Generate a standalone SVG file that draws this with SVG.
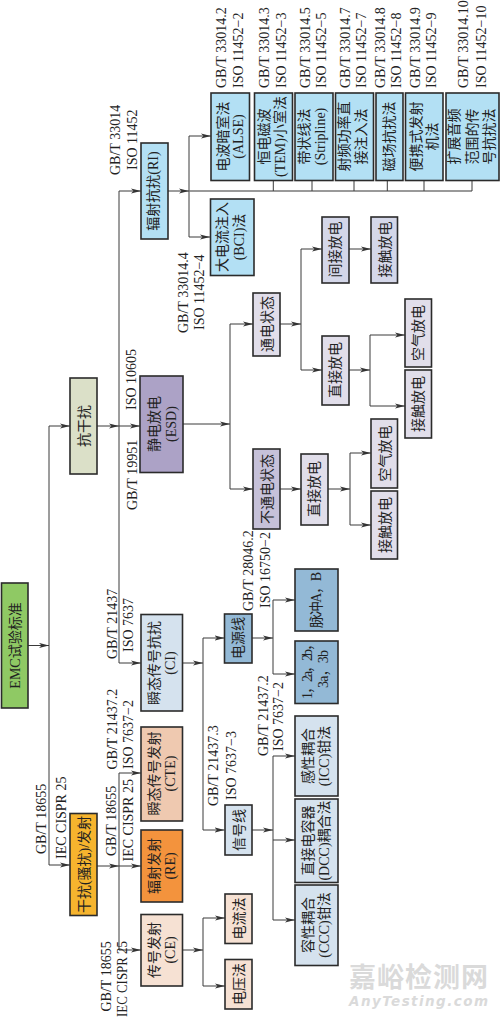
<svg xmlns="http://www.w3.org/2000/svg" width="500" height="1018" viewBox="0 0 500 1018">
<style>
text{font-family:"Liberation Serif","Noto Sans CJK SC",serif;fill:#222}
.n{font-size:14px;text-anchor:middle}
.l{font-size:14px;text-anchor:start}
rect{stroke:#2b2b2b;stroke-width:1.6}
.c path{fill:none;stroke:#3a3a3a;stroke-width:1}
.c path.a{marker-end:url(#ah)}
.c path.g{stroke:#777;stroke-width:1.4}
.lb{fill:#b3e0f4}.pu{fill:#aca2c6}.lp{fill:#e1deea}.mp{fill:#c6c1d9}.bp{fill:#d4d7e9}
.lc{fill:#d5e2ee}.mb{fill:#93b9d6}.ps{fill:#f6e1d3}.sa{fill:#efc9b0}.or{fill:#f3933d}
.wm{fill:#dadada;font-family:"Noto Sans CJK SC",sans-serif;font-weight:700;font-size:27px}
.wn{fill:#dadada;font-family:"DejaVu Sans",sans-serif;font-weight:700;font-style:italic;font-size:13.5px}
</style>
<defs>
<marker id="ah" markerUnits="userSpaceOnUse" markerWidth="10" markerHeight="6" refX="10" refY="3" orient="auto">
<path d="M0 .4L10 3L0 5.6L2.5 3Z" fill="#333"/>
</marker>
</defs>
<g id="connectors" class="c">
<path class="a" d="M28 645.5H49"/>
<path d="M49 426V865"/>
<path class="a" d="M49 426H70"/>
<path class="a" d="M49 865H70"/>
<path class="a" d="M97 426H119"/>
<path d="M119 191V663"/>
<path class="a" d="M119 191H141"/>
<path class="a" d="M119 426H140"/>
<path class="a" d="M119 663H141"/>
<path class="a" d="M168 191H189"/>
<path d="M189 136V237"/>
<path class="a" d="M189 136H211"/>
<path class="a" d="M189 237H210"/>
<path class="g" d="M189 191H472"/>
<path d="M273.300 180V191M312 180V191M354 180V191M387.300 180V191M424 180V191M472 180V191"/>
<path class="a" d="M183 424H230"/>
<path d="M230 324V489"/>
<path class="a" d="M230 324H253"/>
<path class="a" d="M230 489H253"/>
<path class="a" d="M280 324H301"/>
<path d="M301 249V370"/>
<path class="a" d="M301 249H322"/>
<path class="a" d="M301 370H322"/>
<path class="a" d="M349 249H371"/>
<path class="a" d="M349 370H370"/>
<path d="M370 335V406"/>
<path class="a" d="M370 335H405"/>
<path class="a" d="M370 406H405"/>
<path class="a" d="M280 489H301"/>
<path class="a" d="M328 489H350"/>
<path d="M350 453V525"/>
<path class="a" d="M350 453H371"/>
<path class="a" d="M350 525H371"/>
<path class="a" d="M182 663H203"/>
<path d="M203 638V830"/>
<path class="a" d="M203 638H224.500"/>
<path class="a" d="M203 830H224.500"/>
<path class="a" d="M252 638H273"/>
<path d="M273 600V674"/>
<path class="a" d="M273 600H295"/>
<path class="a" d="M273 674H295"/>
<path class="a" d="M252 830H273"/>
<path d="M273 756V920"/>
<path class="a" d="M273 756H295"/>
<path class="a" d="M273 840H295"/>
<path class="a" d="M273 920H295"/>
<path class="a" d="M97 866H119"/>
<path d="M119 773V950"/>
<path class="a" d="M119 773H141"/>
<path class="a" d="M119 866H141"/>
<path class="a" d="M119 950H141"/>
<path class="a" d="M182 950H203"/>
<path d="M203 918V986"/>
<path class="a" d="M203 918H225"/>
<path class="a" d="M203 986H225"/>
</g>
<g id="emc"><rect x="1.500" y="583" width="26.500" height="125" fill="#8fc964"/><text class="n" transform="translate(20,645.500) rotate(-90)">EMC试验标准</text></g>
<g id="immunity"><rect x="70" y="378" width="27" height="96" fill="#dbe0c8"/><text class="n" transform="translate(88.500,426) rotate(-90)">抗干扰</text></g>
<g id="ri"><rect class="lb" x="141" y="143" width="27" height="96"/><text class="n" transform="translate(158,191) rotate(-90)">辐射抗扰(RI)</text></g>
<g id="esd"><rect class="pu" x="140" y="376" width="43" height="96.500"/><text class="n" transform="translate(159,424) rotate(-90)">静电放电</text><text class="n" transform="translate(175.500,424) rotate(-90)">(ESD)</text></g>
<g id="alse"><rect class="lb" x="211" y="93" width="38.500" height="87.500"/><text class="n" transform="translate(227.500,136.500) rotate(-90)">电波暗室法</text><text class="n" transform="translate(243,136.500) rotate(-90)">(ALSE)</text></g>
<g id="tem"><rect class="lb" x="254.500" y="93" width="38" height="87.500"/><text class="n" transform="translate(269,136.500) rotate(-90)">恒电磁波</text><text class="n" transform="translate(285,136.500) rotate(-90)">(TEM)小室法</text></g>
<g id="stripline"><rect class="lb" x="295" y="93" width="38" height="87.500"/><text class="n" transform="translate(309,136.500) rotate(-90)">带状线法</text><text class="n" transform="translate(325,136.500) rotate(-90)">(Stripline)</text></g>
<g id="rfpower"><rect class="lb" x="335.500" y="93" width="38" height="87.500"/><text class="n" transform="translate(349,136.500) rotate(-90)">射频功率直</text><text class="n" transform="translate(366,136.500) rotate(-90)">接注入法</text></g>
<g id="magnetic"><rect class="lb" x="376" y="93" width="27" height="87.500"/><text class="n" transform="translate(394,136.500) rotate(-90)">磁场抗扰法</text></g>
<g id="portable"><rect class="lb" x="405.500" y="93" width="37.500" height="87.500"/><text class="n" transform="translate(421,136.500) rotate(-90)">便携式发射</text><text class="n" transform="translate(437,136.500) rotate(-90)">机法</text></g>
<g id="audio"><rect class="lb" x="446" y="93" width="53" height="87.500"/><text class="n" transform="translate(459,136.500) rotate(-90)">扩展音频</text><text class="n" transform="translate(476.500,136.500) rotate(-90)">范围的传</text><text class="n" transform="translate(494,136.500) rotate(-90)">号抗扰法</text></g>
<g id="bci"><rect class="lb" x="210.500" y="199" width="43.500" height="76.500"/><text class="n" transform="translate(227,237) rotate(-90)">大电流注入</text><text class="n" transform="translate(244,237) rotate(-90)">(BCI)法</text></g>
<g id="powered"><rect class="lp" x="253" y="293" width="27" height="63"/><text class="n" transform="translate(271.500,324) rotate(-90)">通电状态</text></g>
<g id="unpowered"><rect class="mp" x="253" y="449" width="27" height="80"/><text class="n" transform="translate(272,489) rotate(-90)">不通电状态</text></g>
<g id="indirect"><rect class="bp" x="322" y="217" width="27" height="66"/><text class="n" transform="translate(340,249.500) rotate(-90)">间接放电</text></g>
<g id="contact1"><rect class="bp" x="371" y="217" width="26.500" height="66"/><text class="n" transform="translate(389.500,249.500) rotate(-90)">接触放电</text></g>
<g id="direct1"><rect class="lp" x="322" y="336" width="27" height="69"/><text class="n" transform="translate(340,370) rotate(-90)">直接放电</text></g>
<g id="air1"><rect class="lp" x="405" y="299" width="26.500" height="68"/><text class="n" transform="translate(422.500,333) rotate(-90)">空气放电</text></g>
<g id="contact2"><rect class="lp" x="405" y="370" width="26.500" height="68"/><text class="n" transform="translate(422.500,404) rotate(-90)">接触放电</text></g>
<g id="direct2"><rect class="lp" x="301" y="454" width="27" height="71"/><text class="n" transform="translate(319,489) rotate(-90)">直接放电</text></g>
<g id="air2"><rect class="lp" x="371" y="419" width="26.500" height="69"/><text class="n" transform="translate(389.500,453.500) rotate(-90)">空气放电</text></g>
<g id="contact3"><rect class="lp" x="371" y="491" width="26.500" height="68"/><text class="n" transform="translate(389.500,525) rotate(-90)">接触放电</text></g>
<g id="ci"><rect class="lc" x="141" y="614.500" width="41.500" height="96.500"/><text class="n" transform="translate(159,663) rotate(-90)">瞬态传号抗扰</text><text class="n" transform="translate(175,663) rotate(-90)">(CI)</text></g>
<g id="cte"><rect class="sa" x="141" y="727" width="41.500" height="94"/><text class="n" transform="translate(159,773.500) rotate(-90)">瞬态传号发射</text><text class="n" transform="translate(175,773.500) rotate(-90)">(CTE)</text></g>
<g id="re"><rect class="or" x="141" y="830" width="41.500" height="72"/><text class="n" transform="translate(159,866) rotate(-90)">辐射发射</text><text class="n" transform="translate(175,866) rotate(-90)">(RE)</text></g>
<g id="ce"><rect class="ps" x="141" y="914.500" width="41.500" height="71.500"/><text class="n" transform="translate(159,950) rotate(-90)">传号发射</text><text class="n" transform="translate(175,950) rotate(-90)">(CE)</text></g>
<g id="emission"><rect x="70" y="813.500" width="27" height="102" fill="#f6b42e"/><text class="n" transform="translate(89,864.500) rotate(-90)">干扰(骚扰)/发射</text></g>
<g id="current"><rect class="ps" x="225" y="894" width="27" height="49.500"/><text class="n" transform="translate(244,918.500) rotate(-90)">电流法</text></g>
<g id="voltage"><rect class="ps" x="225" y="959.500" width="27" height="49.500"/><text class="n" transform="translate(244,984) rotate(-90)">电压法</text></g>
<g id="power"><rect class="mb" x="224.500" y="614" width="27.500" height="49"/><text class="n" transform="translate(243,638) rotate(-90)">电源线</text></g>
<g id="signal"><rect class="lc" x="225" y="805" width="27" height="50"/><text class="n" transform="translate(244,830) rotate(-90)">信号线</text></g>
<g id="pulseab"><rect class="mb" x="295" y="569" width="43" height="62"/><text class="n" transform="translate(321,600) rotate(-90)" textLength="56">脉冲A，B</text></g>
<g id="pulse123"><rect class="mb" x="295" y="641" width="43" height="62.500"/><text class="n" transform="translate(312,668) rotate(-90)" textLength="62">1，2a，2b，</text><text class="n" transform="translate(328,669) rotate(-90)" textLength="38">3a，3b</text></g>
<g id="icc"><rect class="lc" x="295" y="716" width="43" height="80"/><text class="n" transform="translate(313,756) rotate(-90)">感性耦合</text><text class="n" transform="translate(329,756) rotate(-90)">(ICC)钳法</text></g>
<g id="dcc"><rect class="lc" x="295" y="799" width="43" height="83.500"/><text class="n" transform="translate(313,840.500) rotate(-90)">直接电容器</text><text class="n" transform="translate(329,840.500) rotate(-90)">(DCC)耦合法</text></g>
<g id="ccc"><rect class="lc" x="295" y="885" width="43" height="80.500"/><text class="n" transform="translate(313,925) rotate(-90)">容性耦合</text><text class="n" transform="translate(329,925) rotate(-90)">(CCC)钳法</text></g>
<g id="labels">
<text class="l" transform="translate(225.500,88) rotate(-90)">GB/T 33014.2</text>
<text class="l" transform="translate(242.500,88) rotate(-90)">ISO 11452−2</text>
<text class="l" transform="translate(269,88) rotate(-90)">GB/T 33014.3</text>
<text class="l" transform="translate(286,88) rotate(-90)">ISO 11452−3</text>
<text class="l" transform="translate(310,88) rotate(-90)">GB/T 33014.5</text>
<text class="l" transform="translate(326,88) rotate(-90)">ISO 11452−5</text>
<text class="l" transform="translate(350,88) rotate(-90)">GB/T 33014.7</text>
<text class="l" transform="translate(366,88) rotate(-90)">ISO 11452−7</text>
<text class="l" transform="translate(385,88) rotate(-90)">GB/T 33014.8</text>
<text class="l" transform="translate(401,88) rotate(-90)">ISO 11452−8</text>
<text class="l" transform="translate(420,88) rotate(-90)">GB/T 33014.9</text>
<text class="l" transform="translate(436,88) rotate(-90)">ISO 11452−9</text>
<text class="l" transform="translate(468,88) rotate(-90)">GB/T 33014.10</text>
<text class="l" transform="translate(486,88) rotate(-90)">ISO 11452−10</text>
<text class="l" transform="translate(119.500,175) rotate(-90)">GB/T 33014</text>
<text class="l" transform="translate(136.500,170) rotate(-90)">ISO 11452</text>
<text class="l" transform="translate(187.500,333) rotate(-90)">GB/T 33014.4</text>
<text class="l" transform="translate(204,330) rotate(-90)">ISO 11452−4</text>
<text class="l" transform="translate(136,410) rotate(-90)">ISO 10605</text>
<text class="l" transform="translate(136.500,510) rotate(-90)">GB/T 19951</text>
<text class="l" transform="translate(116.500,659) rotate(-90)">GB/T 21437</text>
<text class="l" transform="translate(133,652) rotate(-90)">ISO 7637</text>
<text class="l" transform="translate(116.500,769.500) rotate(-90)">GB/T 21437.2</text>
<text class="l" transform="translate(133,769) rotate(-90)">ISO 7637−2</text>
<text class="l" transform="translate(45.500,854) rotate(-90)">GB/T 18655</text>
<text class="l" transform="translate(65.500,859) rotate(-90)">IEC CISPR 25</text>
<text class="l" transform="translate(116,856) rotate(-90)">GB/T 18655</text>
<text class="l" transform="translate(132.500,861.500) rotate(-90)">IEC CISPR 25</text>
<text class="l" transform="translate(110.500,1011.500) rotate(-90)">GB/T 18655</text>
<text class="l" transform="translate(127,1017) rotate(-90)" textLength="76" lengthAdjust="spacingAndGlyphs">IEC CISPR 25</text>
<text class="l" transform="translate(218,806) rotate(-90)">GB/T 21437.3</text>
<text class="l" transform="translate(235.500,800) rotate(-90)">ISO 7637−3</text>
<text class="l" transform="translate(252.500,611) rotate(-90)">GB/T 28046.2</text>
<text class="l" transform="translate(269.500,608) rotate(-90)">ISO 16750−2</text>
<text class="l" transform="translate(267.500,756) rotate(-90)">GB/T 21437.2</text>
<text class="l" transform="translate(283,751) rotate(-90)">ISO 7637−2</text>
</g>
<g id="watermark">
<text class="wm" x="349" y="987" textLength="139">嘉峪检测网</text>
<text class="wn" x="349" y="1005.500" textLength="139">AnyTesting.com</text>
</g>
</svg>
